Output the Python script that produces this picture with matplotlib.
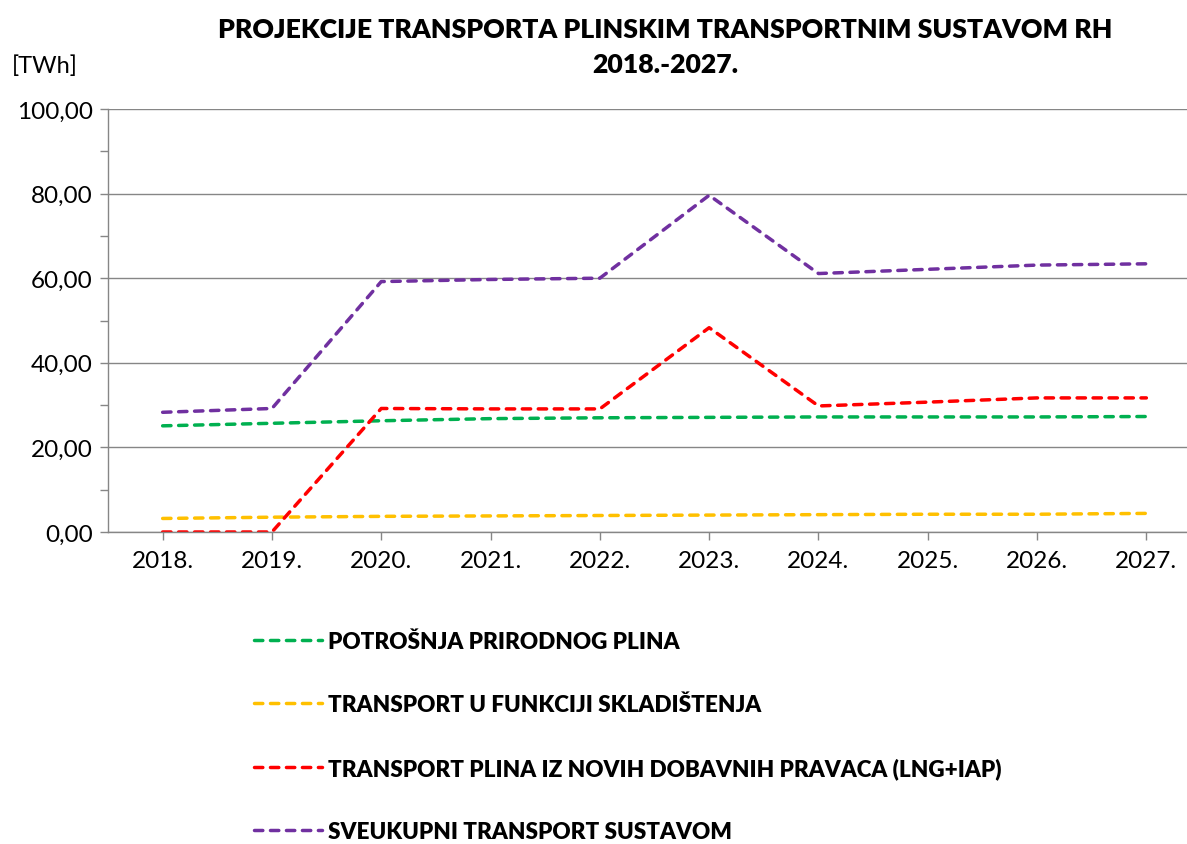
import numpy as np
import matplotlib
matplotlib.use('Agg')
import matplotlib.pyplot as plt
from matplotlib.ticker import MultipleLocator, FuncFormatter

plt.rcParams['font.family'] = ['Lato', 'DejaVu Sans']

years = ['2018.', '2019.', '2020.', '2021.', '2022.', '2023.', '2024.', '2025.', '2026.', '2027.']

potrosnja = [25.1, 25.7, 26.3, 26.8, 27.0, 27.1, 27.2, 27.2, 27.2, 27.3]
skladistenje = [3.2, 3.5, 3.7, 3.8, 3.9, 4.0, 4.1, 4.2, 4.2, 4.4]
novi_pravci = [0.0, 0.0, 29.2, 29.1, 29.1, 48.3, 29.8, 30.7, 31.7, 31.7]
sveukupno = [28.3, 29.2, 59.2, 59.7, 60.0, 79.6, 61.1, 62.1, 63.1, 63.4]

labels = ['POTROŠNJA PRIRODNOG PLINA',
          'TRANSPORT U FUNKCIJI SKLADIŠTENJA',
          'TRANSPORT PLINA IZ NOVIH DOBAVNIH PRAVACA (LNG+IAP)',
          'SVEUKUPNI TRANSPORT SUSTAVOM']
colors = ['#00B050', '#FFC000', '#FF0000', '#7030A0']

fig = plt.figure(figsize=(11.87, 8.45), dpi=100)
ax = fig.add_axes([108/1187, 312/845, (1201-108)/1187, 423/845])

x = np.arange(len(years))
for vals, lab, col in zip([potrosnja, skladistenje, novi_pravci, sveukupno], labels, colors):
    ax.plot(x, vals, color=col, lw=2.5, linestyle=(0, (2.4, 2.2)),
            dash_capstyle='round', label=lab)

ax.set_xlim(-0.5, len(years) - 0.5)
ax.set_ylim(0, 100)
ax.yaxis.set_major_locator(MultipleLocator(20))
ax.yaxis.set_minor_locator(MultipleLocator(10))
ax.yaxis.set_major_formatter(FuncFormatter(lambda v, p: ('%.2f' % v).replace('.', ',')))
ax.set_xticks(x)
ax.set_xticklabels(years)
ax.grid(axis='y', which='major', color='#868686', lw=1)
ax.set_axisbelow(True)

for s in ['top', 'right']:
    ax.spines[s].set_visible(False)
for s in ['left', 'bottom']:
    ax.spines[s].set_color('#868686')
    ax.spines[s].set_linewidth(1)

ax.tick_params(axis='both', which='both', direction='out', color='#868686', width=1)
ax.tick_params(axis='y', which='major', length=6, labelsize=17.5, pad=5)
ax.tick_params(axis='y', which='minor', length=6)
ax.tick_params(axis='x', length=6, labelsize=17.5, pad=7)

fig.text(665/1187, 1 - 30/845, 'PROJEKCIJE TRANSPORTA PLINSKIM TRANSPORTNIM SUSTAVOM RH',
         ha='center', va='center', fontsize=19.2, fontweight='heavy')
fig.text(665/1187, 1 - 65/845, '2018.-2027.', ha='center', va='center',
         fontsize=19.2, fontweight='heavy')
fig.text(12/1187, 1 - 66/845, '[TWh]', ha='left', va='center', fontsize=17)

leg = fig.legend(loc='upper left', bbox_to_anchor=(234/1187, 1 - 612/845),
                 frameon=False, prop={'size': 16.2, 'weight': 'heavy'},
                 handlelength=3.0, handletextpad=0.3, labelspacing=1.86)

fig.savefig('out.png', dpi=100)
